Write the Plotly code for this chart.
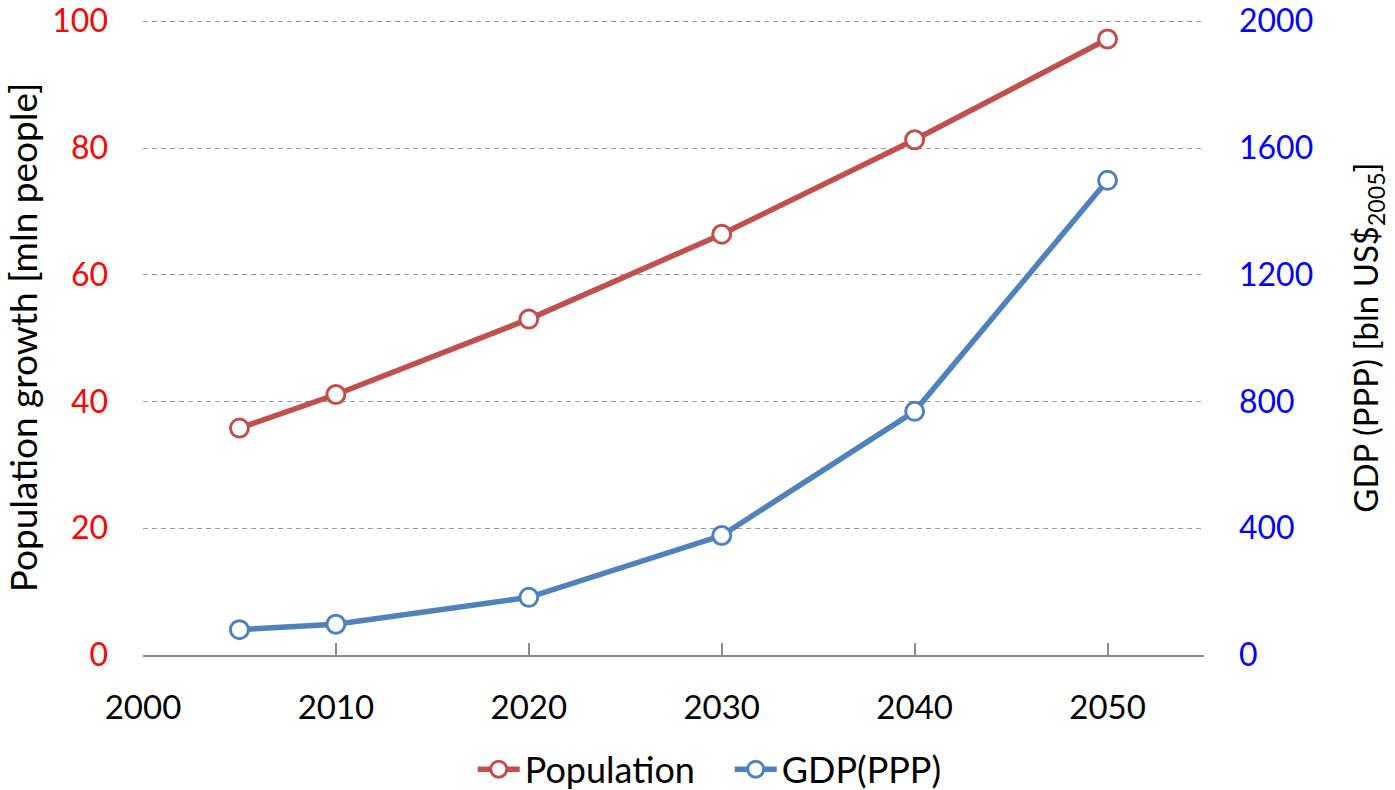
import plotly.graph_objects as go

years = [2005, 2010, 2020, 2030, 2040, 2050]
population = [35.8, 41.1, 53.0, 66.4, 81.3, 97.2]
gdp_ppp = [80, 97, 182, 377, 769, 1498]

x_ticks = [2000, 2010, 2020, 2030, 2040, 2050]
left_ticks = [0, 20, 40, 60, 80, 100]
right_ticks = [0, 400, 800, 1200, 1600, 2000]

FONT = "Lato, Open Sans, sans-serif"
RED = "#C0504D"
BLUE = "#4F81BD"

fig = go.Figure()
fig.add_trace(go.Scatter(
    x=years, y=population, name="Population", mode="lines+markers",
    line=dict(color=RED, width=5.5),
    marker=dict(symbol="circle", size=18, color="white", line=dict(color=RED, width=3)),
    yaxis="y",
))
fig.add_trace(go.Scatter(
    x=years, y=gdp_ppp, name="GDP(PPP)", mode="lines+markers",
    line=dict(color=BLUE, width=5.5),
    marker=dict(symbol="circle", size=18, color="white", line=dict(color=BLUE, width=3)),
    yaxis="y2",
))

fig.update_layout(
    template="none",
    width=1395, height=790,
    margin=dict(l=143, r=191, t=20, b=135, autoexpand=False),
    paper_bgcolor="white", plot_bgcolor="white",
    font=dict(family=FONT, size=33, color="black"),
    xaxis=dict(
        range=[2000, 2055], tickvals=x_ticks, automargin=False,
        showline=True, linecolor="#8c8c8c", linewidth=1.5,
        ticks="inside", ticklen=12, tickcolor="#8c8c8c", tickwidth=1.5,
        showgrid=False, zeroline=False,
        tickfont=dict(size=33, color="black"),
        ticklabelstandoff=23, ticklabeloverflow="allow",
    ),
    yaxis=dict(
        range=[0, 100.2], tickvals=left_ticks, automargin=False,
        showgrid=True, gridcolor="#999999", griddash="5px,4px", gridwidth=1,
        zeroline=False, showline=False, ticks="",
        tickfont=dict(size=32, color="#FF0000"),
        ticklabelstandoff=34, ticklabeloverflow="allow",
        title=dict(text="Population growth [mln people]", font=dict(size=37, color="black"), standoff=16),
    ),
    yaxis2=dict(
        range=[0, 2004], tickvals=right_ticks, automargin=False,
        overlaying="y", side="right",
        showgrid=False, zeroline=False, showline=False, ticks="",
        tickfont=dict(size=32, color="#0000FF"),
        ticklabelstandoff=34, ticklabeloverflow="allow",
        title=dict(text="GDP (PPP) [bln US$<sub>2005</sub>]", font=dict(size=33, color="black"), standoff=42),
    ),
    legend=dict(
        orientation="h", x=0.553, xanchor="center", y=-0.18, yanchor="middle",
        font=dict(size=36, color="black"), bgcolor="rgba(0,0,0,0)",
        entrywidth=200, itemwidth=42,
    ),
)

fig.write_html("out.html")
